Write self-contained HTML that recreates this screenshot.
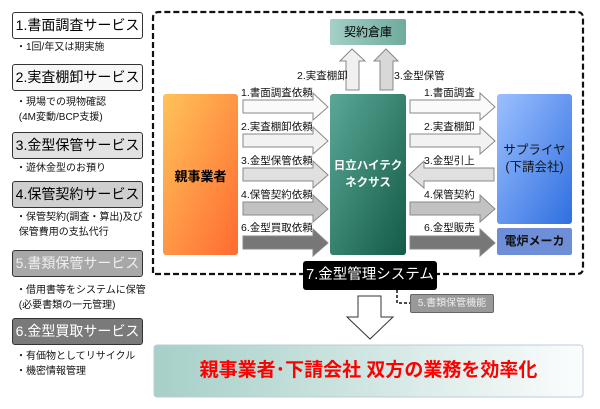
<!DOCTYPE html>
<html><head><meta charset="utf-8"><style>
body{margin:0;width:600px;height:409px;background:#fff;position:relative;overflow:hidden;font-family:"Liberation Sans","Noto Sans CJK JP",sans-serif;}
.a{position:absolute;box-sizing:border-box;white-space:nowrap;}
.sb{left:12px;width:131px;height:27px;border:1px solid #333;border-radius:3px;font-size:14px;line-height:25px;text-align:center;}
.cap{left:16px;font-size:10px;line-height:15px;color:#111;}
.lbl{position:absolute;font-size:10.5px;color:#111;line-height:12px;white-space:nowrap;}
</style></head><body>
<div class="a sb" style="top:12px;background:#fff">1.書面調査サービス</div>
<div class="a cap" style="top:40px">・1回/年又は期実施</div>
<div class="a sb" style="top:64px;background:#f7f7f7">2.実査棚卸サービス</div>
<div class="a cap" style="top:95px">・現場での現物確認<br>&nbsp;(4M変動/BCP支援)</div>
<div class="a sb" style="top:132px;background:#e2e2e2">3.金型保管サービス</div>
<div class="a cap" style="top:161px">・遊休金型のお預り</div>
<div class="a sb" style="top:181px;background:#cfcfcf">4.保管契約サービス</div>
<div class="a cap" style="top:210px">・保管契約(調査・算出)及び<br>&nbsp;保管費用の支払代行</div>
<div class="a sb" style="top:250px;background:#a8a8a8;color:#eee">5.書類保管サービス</div>
<div class="a cap" style="top:283px">・借用書等をシステムに保管<br>&nbsp;(必要書類の一元管理)</div>
<div class="a sb" style="top:318px;background:#7a7a7a;color:#fff">6.金型買取サービス</div>
<div class="a cap" style="top:349px">・有価物としてリサイクル<br>・機密情報管理</div>

<svg class="a" style="left:0;top:0" width="600" height="409">
<defs>
<linearGradient id="go" x1="0" y1="0" x2="1" y2="1"><stop offset="0" stop-color="#ffc35a"/><stop offset="1" stop-color="#ff6a30"/></linearGradient>
<linearGradient id="gt" x1="0" y1="0" x2="1" y2="1"><stop offset="0" stop-color="#5aa896"/><stop offset="1" stop-color="#145a48"/></linearGradient>
<linearGradient id="gb" x1="0" y1="0" x2="1" y2="1"><stop offset="0" stop-color="#9cc0ff"/><stop offset="1" stop-color="#2f6fe0"/></linearGradient>
<linearGradient id="gk" x1="0" y1="0" x2="1" y2="0"><stop offset="0" stop-color="#a5d0c7"/><stop offset="1" stop-color="#6fab9c"/></linearGradient>
<linearGradient id="gd" x1="0" y1="0" x2="1" y2="0"><stop offset="0" stop-color="#a6cfc8"/><stop offset="1" stop-color="#fbfdfd"/></linearGradient>
</defs>
<path d="M153,273 V18 Q153,12 159,12 H577 Q583,12 583,18 V268 Q583,274 577,274 H153" fill="none" stroke="#111" stroke-width="2.2" stroke-dasharray="6,3"/>
<rect x="330" y="19" width="76" height="26" rx="2" fill="url(#gk)"/>
<polygon points="346,90 359,90 359,61 365,61 352,49 340,61 346,61" fill="#f0f0f0" stroke="#888"/>
<polygon points="380,90 393,90 393,61 398,61 386,49 374,61 380,61" fill="#d8d8d8" stroke="#888"/>
<rect x="163" y="94" width="75" height="161" rx="3" fill="url(#go)"/>
<rect x="330" y="94" width="76" height="161" rx="3" fill="url(#gt)"/>
<rect x="497" y="94" width="75" height="130" rx="3" fill="url(#gb)"/>
<rect x="497" y="228" width="75" height="27" rx="2" fill="#6e8fd8"/>
<g stroke="#888" stroke-width="1">
<polygon points="243,100 313,100 313,93 328,107 313,120 313,113 243,113" fill="#fafafa"/>
<polygon points="243,134 313,134 313,127 328,141 313,154 313,147 243,147" fill="#f2f2f2"/>
<polygon points="243,168 313,168 313,161 328,175 313,188 313,181 243,181" fill="#e0e0e0"/>
<polygon points="243,202 313,202 313,195 328,209 313,222 313,215 243,215" fill="#c2c2c2"/>
<polygon points="243,236 313,236 313,229 328,243 313,256 313,249 243,249" fill="#777"/>
<polygon points="410,100 480,100 480,93 495,107 480,120 480,113 410,113" fill="#fafafa"/>
<polygon points="410,134 480,134 480,127 495,141 480,154 480,147 410,147" fill="#f2f2f2"/>
<polygon points="494,168 424,168 424,161 409,175 424,188 424,181 494,181" fill="#e0e0e0"/>
<polygon points="410,202 480,202 480,195 495,209 480,222 480,215 410,215" fill="#c2c2c2"/>
<polygon points="410,236 480,236 480,229 495,243 480,256 480,249 410,249" fill="#777"/>
</g>
<path d="M397,290 V303 H410" fill="none" stroke="#111" stroke-width="1.5" stroke-dasharray="3,2"/>
<polygon points="358,296 381,296 381,317 393,317 370,339 347,317 358,317" fill="#fff" stroke="#333"/>
<rect x="154" y="345" width="429" height="52" rx="3" fill="url(#gd)" stroke="#bcd" />
</svg>
<div class="a" style="left:330px;top:19px;width:76px;height:26px;line-height:26px;text-align:center;font-size:12px">契約倉庫</div>
<div class="lbl" style="left:297px;top:70px">2.実査棚卸</div>
<div class="lbl" style="left:394px;top:70px">3.金型保管</div>
<div class="lbl" style="left:241px;top:87px">1.書面調査依頼</div>
<div class="lbl" style="left:241px;top:121px">2.実査棚卸依頼</div>
<div class="lbl" style="left:241px;top:155px">3.金型保管依頼</div>
<div class="lbl" style="left:241px;top:189px">4.保管契約依頼</div>
<div class="lbl" style="left:241px;top:222px">6.金型買取依頼</div>
<div class="lbl" style="left:424px;top:87px">1.書面調査</div>
<div class="lbl" style="left:424px;top:121px">2.実査棚卸</div>
<div class="lbl" style="left:424px;top:155px">3.金型引上</div>
<div class="lbl" style="left:424px;top:189px">4.保管契約</div>
<div class="lbl" style="left:424px;top:222px">6.金型販売</div>
<div class="a" style="left:163px;top:166px;width:75px;text-align:center;font-size:13px;font-weight:bold">親事業者</div>
<div class="a" style="left:330px;top:158px;width:76px;text-align:center;font-size:11.5px;font-weight:bold;color:#fff;line-height:17px">日立ハイテク<br>ネクサス</div>
<div class="a" style="left:497px;top:142px;width:75px;text-align:center;font-size:12.5px;line-height:17px;color:#111">サプライヤ<br>(下請会社)</div>
<div class="a" style="left:497px;top:228px;width:75px;height:27px;line-height:27px;text-align:center;font-size:12px;font-weight:bold;color:#111">電炉メーカ</div>
<div class="a" style="left:303px;top:261px;width:134px;height:29px;background:#000;border-radius:3px;color:#fff;font-size:14.5px;line-height:29px;text-align:center">7.金型管理システム</div>
<div class="a" style="left:410px;top:294px;width:84px;height:19px;background:#999;border:1px solid #666;border-radius:2px;color:#eee;font-size:10px;line-height:17px;text-align:center">5.書類保管機能</div>
<div class="a" style="left:154px;top:345px;width:429px;height:52px;line-height:52px;text-align:center;color:#f00;font-size:19px;font-weight:bold">親事業者･下請会社 双方の業務を効率化</div>
</body></html>
